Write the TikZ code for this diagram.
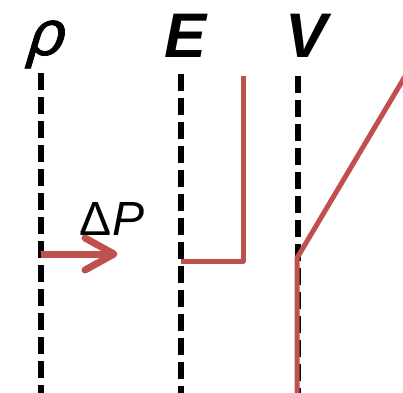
\documentclass[tikz,border=0pt]{standalone}
\usepackage{fontspec}
\setmainfont{Liberation Sans}
\newfontfamily\rhofont[FakeSlant=0.3,FakeBold=1.2]{Liberation Sans}
\definecolor{lossred}{RGB}{192,80,77}
\begin{document}
\begin{tikzpicture}[x=1pt,y=-1pt,
  guide/.style={line width=6pt,dash pattern=on 17pt off 7pt,black},
  profile/.style={line width=5pt,lossred,line join=round},
  pushmark/.style={line width=7pt,lossred,line cap=round,line join=round},
  headlabel/.style={anchor=base,inner sep=0pt,font=\fontsize{63}{63}\selectfont\bfseries\itshape},
  steplabel/.style={anchor=base,inner sep=0pt,font=\fontsize{48}{48}\selectfont}]
\useasboundingbox (0,0) rectangle (403,392);
\clip (0,0) rectangle (403,392);
% column headings
\node[headlabel,font=\fontsize{64}{64}\selectfont\rhofont] (rho) at (43,55) {ρ};
\node[headlabel] (en) at (186,57) {E};
\node[headlabel] (vol) at (307,57) {V};
% dashed guide lines
\coordinate (rhoTop) at (41,73);  \coordinate (rhoBot) at (41,396);
\coordinate (enTop) at (181,74);  \coordinate (enBot) at (181,396);
\coordinate (volTop) at (298,76); \coordinate (volBot) at (298,396);
\draw[guide] (rhoTop) -- (rhoBot);
\draw[guide] (enTop) -- (enBot);
\draw[guide] (volTop) -- (volBot);
% pressure step arrow
\node[steplabel] (dp) at (112,235) {Δ\textit{P}};
\coordinate (arTail) at (41,254);
\coordinate (arTip) at (114,254);
\coordinate (arUp) at (85,238);
\coordinate (arDn) at (85,270);
\draw[pushmark,line cap=butt] (arTail) -- (arTip);
\draw[pushmark] (arUp) -- (arTip) -- (arDn);
% energy profile
\coordinate (enA) at (181,261);
\coordinate (enB) at (243,261);
\coordinate (enC) at (243,76);
\draw[profile] (enA) -- (enB) -- (enC);
% volume profile
\coordinate (volA) at (297,396);
\coordinate (volB) at (297,258);
\coordinate (volC) at (410,68);
\draw[profile] (volA) -- (volB) -- (volC);
\end{tikzpicture}
\end{document}
